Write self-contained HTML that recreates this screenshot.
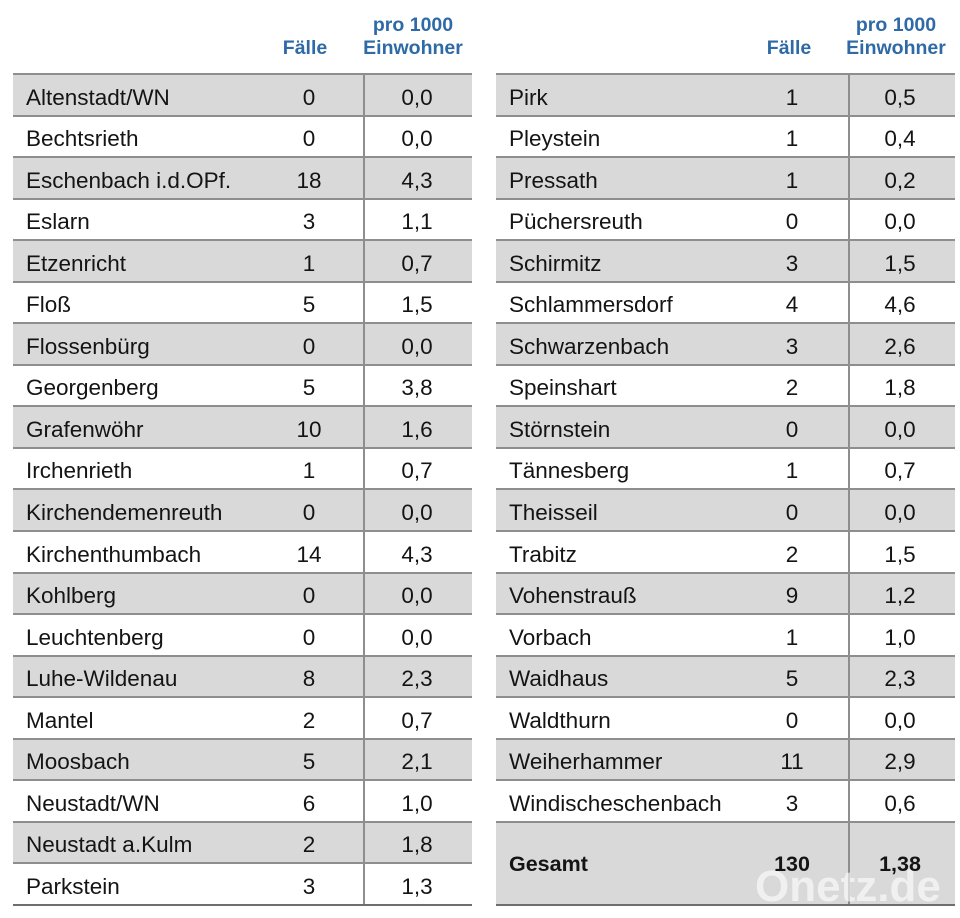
<!DOCTYPE html>
<html><head><meta charset="utf-8"><style>
html,body{margin:0;padding:0;background:#fff;}
body{width:960px;height:918px;position:relative;overflow:hidden;font-family:"Liberation Sans",sans-serif;color:#141414;}
.h{position:absolute;width:160px;text-align:center;font-weight:bold;font-size:19.5px;line-height:20px;color:#2f6aa6;}
.t{position:absolute;top:73px;width:459px;border-bottom:2px solid #6e6e6e;}
.r{position:relative;height:41.55px;box-sizing:border-box;border-top:2px solid #8e8e8e;line-height:39.55px;font-size:22.5px;}
.g{background:#d9d9d9;}
.n{position:absolute;left:13px;top:2.5px;white-space:nowrap;z-index:2;}
.f{position:absolute;left:256px;width:80px;text-align:center;top:2.5px;z-index:2;}
.v{position:absolute;left:364px;width:80px;text-align:center;top:2.5px;z-index:2;}
.tot{height:83.1px;line-height:81.1px;font-weight:bold;font-size:21.5px;}
.tot .n,.tot .f,.tot .v{top:1.5px;}
.d{position:absolute;left:350px;top:0;bottom:0;width:2px;background:#8e8e8e;z-index:1;}
.wm{position:absolute;left:755px;top:862px;font-weight:bold;font-size:44px;line-height:50px;color:rgba(255,255,255,0.6);white-space:nowrap;z-index:1;}
</style></head><body>

<div class="h" style="left:225px;top:38px;">Fälle</div>
<div class="h" style="left:333px;top:15px;">pro 1000</div>
<div class="h" style="left:333px;top:38px;">Einwohner</div>

<div class="h" style="left:709px;top:38px;">Fälle</div>
<div class="h" style="left:816px;top:15px;">pro 1000</div>
<div class="h" style="left:816px;top:38px;">Einwohner</div>

<div class="t" style="left:13px;">
<div class="r g"><span class="n">Altenstadt/WN</span><span class="f">0</span><span class="v">0,0</span></div>
<div class="r"><span class="n">Bechtsrieth</span><span class="f">0</span><span class="v">0,0</span></div>
<div class="r g"><span class="n">Eschenbach i.d.OPf.</span><span class="f">18</span><span class="v">4,3</span></div>
<div class="r"><span class="n">Eslarn</span><span class="f">3</span><span class="v">1,1</span></div>
<div class="r g"><span class="n">Etzenricht</span><span class="f">1</span><span class="v">0,7</span></div>
<div class="r"><span class="n">Floß</span><span class="f">5</span><span class="v">1,5</span></div>
<div class="r g"><span class="n">Flossenbürg</span><span class="f">0</span><span class="v">0,0</span></div>
<div class="r"><span class="n">Georgenberg</span><span class="f">5</span><span class="v">3,8</span></div>
<div class="r g"><span class="n">Grafenwöhr</span><span class="f">10</span><span class="v">1,6</span></div>
<div class="r"><span class="n">Irchenrieth</span><span class="f">1</span><span class="v">0,7</span></div>
<div class="r g"><span class="n">Kirchendemenreuth</span><span class="f">0</span><span class="v">0,0</span></div>
<div class="r"><span class="n">Kirchenthumbach</span><span class="f">14</span><span class="v">4,3</span></div>
<div class="r g"><span class="n">Kohlberg</span><span class="f">0</span><span class="v">0,0</span></div>
<div class="r"><span class="n">Leuchtenberg</span><span class="f">0</span><span class="v">0,0</span></div>
<div class="r g"><span class="n">Luhe-Wildenau</span><span class="f">8</span><span class="v">2,3</span></div>
<div class="r"><span class="n">Mantel</span><span class="f">2</span><span class="v">0,7</span></div>
<div class="r g"><span class="n">Moosbach</span><span class="f">5</span><span class="v">2,1</span></div>
<div class="r"><span class="n">Neustadt/WN</span><span class="f">6</span><span class="v">1,0</span></div>
<div class="r g"><span class="n">Neustadt a.Kulm</span><span class="f">2</span><span class="v">1,8</span></div>
<div class="r"><span class="n">Parkstein</span><span class="f">3</span><span class="v">1,3</span></div>
<div class="d"></div>
</div>

<div class="t" style="left:496px;">
<div class="r g"><span class="n">Pirk</span><span class="f">1</span><span class="v">0,5</span></div>
<div class="r"><span class="n">Pleystein</span><span class="f">1</span><span class="v">0,4</span></div>
<div class="r g"><span class="n">Pressath</span><span class="f">1</span><span class="v">0,2</span></div>
<div class="r"><span class="n">Püchersreuth</span><span class="f">0</span><span class="v">0,0</span></div>
<div class="r g"><span class="n">Schirmitz</span><span class="f">3</span><span class="v">1,5</span></div>
<div class="r"><span class="n">Schlammersdorf</span><span class="f">4</span><span class="v">4,6</span></div>
<div class="r g"><span class="n">Schwarzenbach</span><span class="f">3</span><span class="v">2,6</span></div>
<div class="r"><span class="n">Speinshart</span><span class="f">2</span><span class="v">1,8</span></div>
<div class="r g"><span class="n">Störnstein</span><span class="f">0</span><span class="v">0,0</span></div>
<div class="r"><span class="n">Tännesberg</span><span class="f">1</span><span class="v">0,7</span></div>
<div class="r g"><span class="n">Theisseil</span><span class="f">0</span><span class="v">0,0</span></div>
<div class="r"><span class="n">Trabitz</span><span class="f">2</span><span class="v">1,5</span></div>
<div class="r g"><span class="n">Vohenstrauß</span><span class="f">9</span><span class="v">1,2</span></div>
<div class="r"><span class="n">Vorbach</span><span class="f">1</span><span class="v">1,0</span></div>
<div class="r g"><span class="n">Waidhaus</span><span class="f">5</span><span class="v">2,3</span></div>
<div class="r"><span class="n">Waldthurn</span><span class="f">0</span><span class="v">0,0</span></div>
<div class="r g"><span class="n">Weiherhammer</span><span class="f">11</span><span class="v">2,9</span></div>
<div class="r"><span class="n">Windischeschenbach</span><span class="f">3</span><span class="v">0,6</span></div>
<div class="r g tot"><span class="n">Gesamt</span><span class="f">130</span><span class="v">1,38</span></div>
<div class="d" style="left:352px;"></div>
</div>

<div class="wm">Onetz.de</div>
</body></html>
